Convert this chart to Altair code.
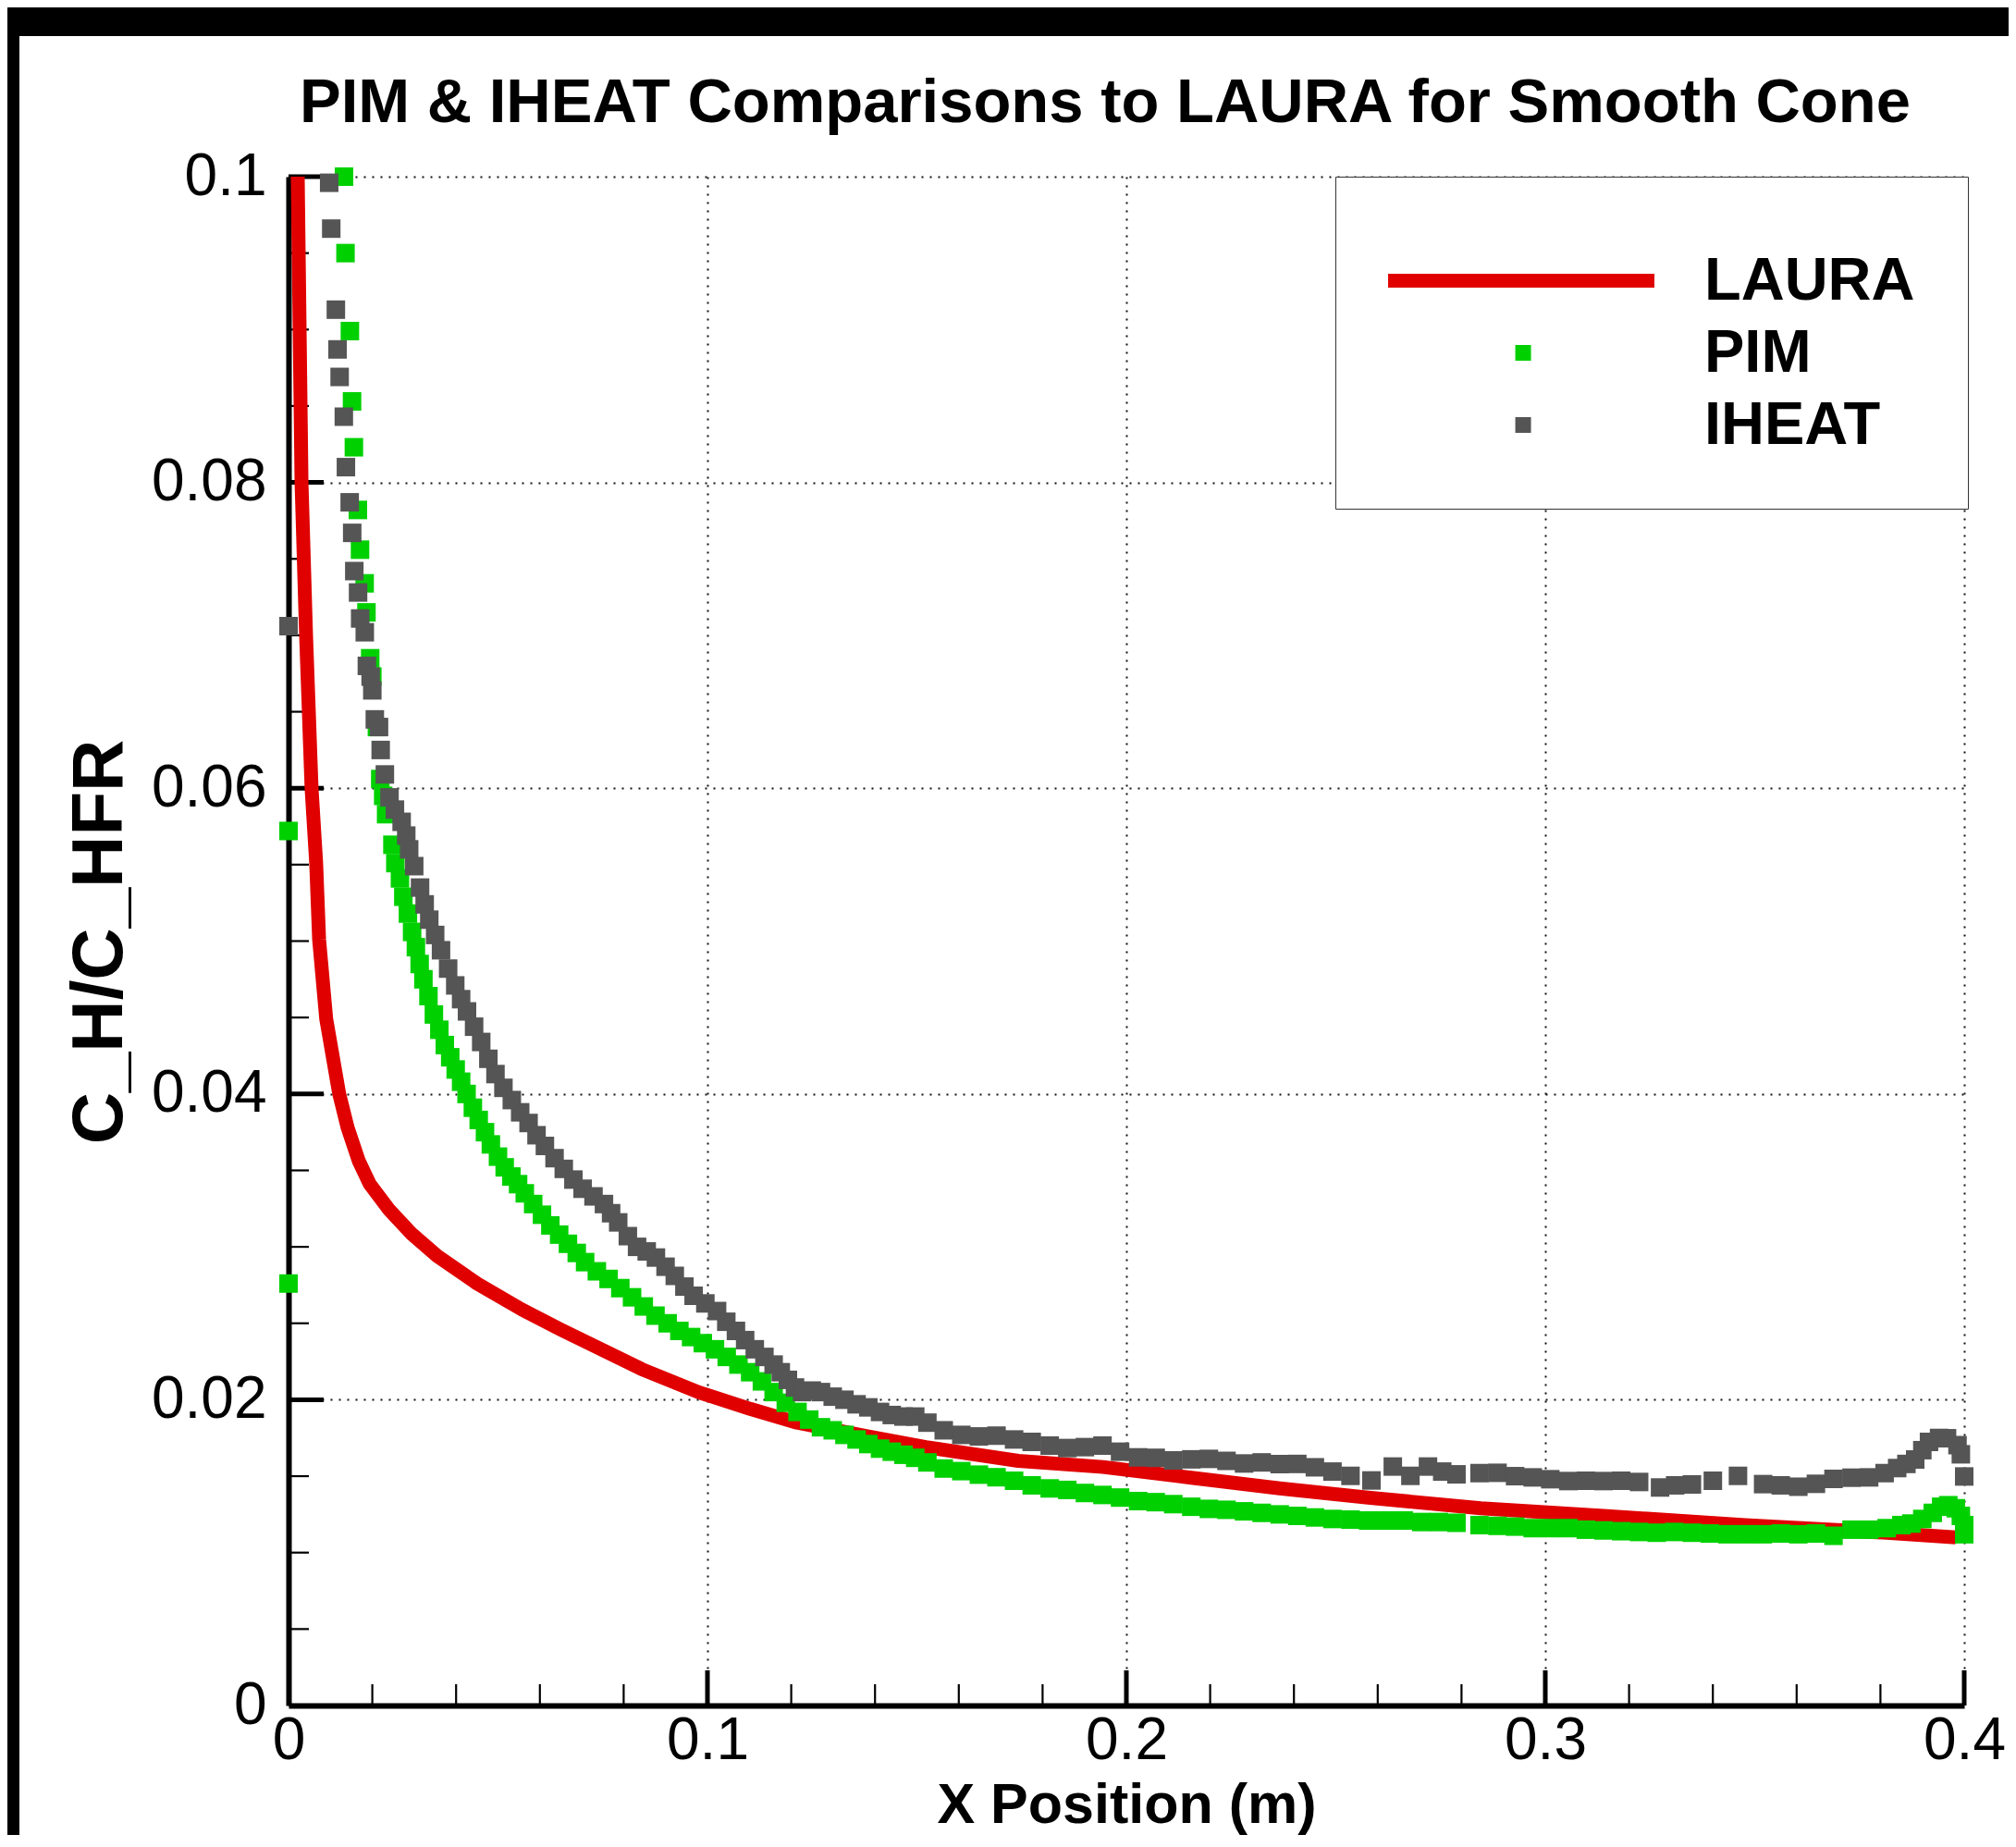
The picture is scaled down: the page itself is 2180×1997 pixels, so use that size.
import altair as alt
import pandas as pd

# ---------------- text ----------------
TITLE = "PIM & IHEAT Comparisons to LAURA for Smooth Cone"
X_TITLE = "X Position (m)"
Y_TITLE = "C_H/C_HFR"
SERIES = ["LAURA", "PIM", "IHEAT"]
COLORS = ["#E00000", "#00D000", "#555555"]

# ---------------- data ----------------
laura_x = [0.0022, 0.0031, 0.0042, 0.0055, 0.0066, 0.0073, 0.0090, 0.0121, 0.0141, 0.0168,
           0.0194, 0.0241, 0.0292, 0.0355, 0.0450, 0.0557, 0.0649, 0.0843, 0.0978, 0.1102,
           0.1214, 0.1384, 0.1521, 0.1742, 0.1944, 0.2155, 0.2366, 0.2577, 0.2846, 0.3139,
           0.3477, 0.3815, 0.3980]
laura_y = [0.1000, 0.0800, 0.0699, 0.0600, 0.0551, 0.0501, 0.0449, 0.0400, 0.0378, 0.0356,
           0.0341, 0.0324, 0.0309, 0.0294, 0.0276, 0.0259, 0.0246, 0.0220, 0.0205, 0.0194,
           0.0185, 0.0176, 0.0169, 0.0160, 0.0156, 0.0149, 0.0142, 0.0136, 0.0129, 0.0124,
           0.0118, 0.0113, 0.0110]

pim_x = [0.0000, 0.0000,
         0.01325, 0.0136, 0.01465, 0.01516, 0.0156, 0.01656, 0.01707, 0.01817, 0.0186, 0.0195,
         0.0200, 0.0211, 0.0219, 0.0226, 0.0233, 0.0248, 0.0255, 0.0266, 0.0274, 0.0285,
         0.0295, 0.0304, 0.0313, 0.0322, 0.0334, 0.0347, 0.0360, 0.0373, 0.0386, 0.0399,
         0.0412, 0.0425, 0.0440, 0.0454, 0.0469, 0.0483, 0.0500, 0.0516, 0.0532, 0.0548,
         0.0564, 0.0584, 0.0605, 0.0625, 0.0646, 0.0667, 0.0688, 0.0708, 0.0736, 0.0764,
         0.0792, 0.0820, 0.0848, 0.0876, 0.0905, 0.0933, 0.0961, 0.0989, 0.1018, 0.1046,
         0.1074, 0.1102, 0.1130, 0.1158, 0.1187, 0.1215, 0.1243, 0.1271, 0.1299, 0.1327,
         0.1356, 0.1384, 0.1412, 0.1440, 0.1468, 0.1496, 0.1525, 0.1564, 0.1606, 0.1648,
         0.1690, 0.1732, 0.1774, 0.1817, 0.1859, 0.1901, 0.1943, 0.1985, 0.2028, 0.2070,
         0.2112, 0.2155, 0.2197, 0.2239, 0.2281, 0.2323, 0.2366, 0.2408, 0.2450, 0.2492,
         0.2535, 0.2577, 0.2619, 0.2662, 0.2704, 0.2746, 0.2788, 0.2843, 0.2886, 0.2928,
         0.2970, 0.3012, 0.3055, 0.3097, 0.3139, 0.3181, 0.3224, 0.3266, 0.3308, 0.3350,
         0.3393, 0.3435, 0.3477, 0.3519, 0.3562, 0.3604, 0.3646, 0.3688, 0.3731, 0.3773,
         0.3815, 0.3850, 0.3874, 0.3900, 0.3925, 0.3945, 0.3962, 0.3980, 0.3992, 0.4000,
         0.4000]
pim_y = [0.0572, 0.0276,
         0.1000, 0.0950, 0.0899, 0.0853, 0.0823, 0.0782, 0.0756, 0.0734, 0.0715, 0.0685,
         0.0673, 0.0640, 0.0606, 0.0595, 0.0583, 0.0563, 0.0551, 0.0541, 0.0529, 0.0518,
         0.0506, 0.0496, 0.0485, 0.0475, 0.0464, 0.0452, 0.0442, 0.0432, 0.0424, 0.0416,
         0.0408, 0.0400, 0.0391, 0.0383, 0.0375, 0.0367, 0.0359, 0.0352, 0.0346, 0.0341,
         0.0335, 0.0328, 0.0321, 0.0314, 0.0308, 0.0302, 0.0296, 0.0290, 0.0284, 0.0279,
         0.0273, 0.0267, 0.0261, 0.0255, 0.0250, 0.0245, 0.0241, 0.0237, 0.0233, 0.0228,
         0.0223, 0.0218, 0.0212, 0.0205, 0.0198, 0.0192, 0.0187, 0.0182, 0.0180, 0.0177,
         0.0174, 0.0171, 0.0168, 0.0166, 0.0164, 0.0162, 0.0159, 0.0155, 0.01533, 0.0151,
         0.01493, 0.0147, 0.0144, 0.0142, 0.0141, 0.0139, 0.01377, 0.0136, 0.01337, 0.0133,
         0.01317, 0.0130, 0.01286, 0.0128, 0.0127, 0.0126, 0.0125, 0.0124, 0.0123, 0.0122,
         0.01216, 0.0121, 0.0121, 0.0121, 0.0120, 0.0120, 0.01195, 0.0118, 0.01175, 0.0117,
         0.0116, 0.0116, 0.0116, 0.0115, 0.01145, 0.0114, 0.01135, 0.0113, 0.01135, 0.0113,
         0.01125, 0.0112, 0.0112, 0.0112, 0.01125, 0.0112, 0.01125, 0.0111, 0.0115, 0.0115,
         0.0116, 0.0118, 0.0119, 0.0122, 0.0126, 0.0130, 0.0131, 0.0129, 0.0124, 0.0118,
         0.0112]

iheat_x = [0.0000, 0.0097, 0.0102, 0.0113, 0.0117, 0.0122, 0.0132, 0.0137, 0.0146, 0.0152,
           0.0157, 0.0166, 0.0171, 0.0182, 0.0187, 0.0196, 0.0200, 0.0206, 0.0216, 0.0220,
           0.0230, 0.0241, 0.0254, 0.0270, 0.0281, 0.0288, 0.0300, 0.0314, 0.0325, 0.0336,
           0.0350, 0.0364, 0.0381, 0.0398, 0.0412, 0.0426, 0.0443, 0.0460, 0.0477, 0.0494,
           0.0513, 0.0533, 0.0553, 0.0573, 0.0592, 0.0612, 0.0635, 0.0657, 0.0680, 0.0702,
           0.0728, 0.0753, 0.0770, 0.0787, 0.0810, 0.0832, 0.0855, 0.0877, 0.0900, 0.0922,
           0.0945, 0.0967, 0.0995, 0.1023, 0.1045, 0.1068, 0.1090, 0.1113, 0.1136, 0.1158,
           0.1175, 0.1192, 0.1209, 0.1226, 0.1249, 0.1271, 0.1299, 0.1327, 0.1356, 0.1384,
           0.1412, 0.1440, 0.1468, 0.1496, 0.1525, 0.1564, 0.1606, 0.1648, 0.1690, 0.1732,
           0.1774, 0.1817, 0.1859, 0.1901, 0.1943, 0.1985, 0.2028, 0.2070, 0.2112, 0.2155,
           0.2197, 0.2239, 0.2281, 0.2323, 0.2366, 0.2408, 0.2450, 0.2492, 0.2535, 0.2585,
           0.2636, 0.2678, 0.2720, 0.2754, 0.2788, 0.2843, 0.2886, 0.2928, 0.2970, 0.3012,
           0.3055, 0.3097, 0.3139, 0.3181, 0.3224, 0.3274, 0.3310, 0.3350, 0.3400, 0.3460,
           0.3520, 0.3562, 0.3604, 0.3646, 0.3688, 0.3731, 0.3773, 0.3810, 0.3840, 0.3862,
           0.3883, 0.3900, 0.3916, 0.3940, 0.3959, 0.3984, 0.3992, 0.4000]
iheat_y = [0.0706, 0.0996, 0.0966, 0.0913, 0.0887, 0.0869, 0.0843, 0.0810, 0.0787, 0.0767,
           0.0742, 0.0728, 0.0711, 0.0702, 0.0680, 0.0673, 0.0664, 0.0645, 0.0640, 0.0625,
           0.0609, 0.0594, 0.0586, 0.0578, 0.0569, 0.0560, 0.0549, 0.0535, 0.0524, 0.0514,
           0.0504, 0.0494, 0.0482, 0.0471, 0.0462, 0.0454, 0.0444, 0.0434, 0.0423, 0.0413,
           0.0404, 0.0396, 0.0388, 0.0381, 0.0373, 0.0366, 0.0358, 0.0351, 0.0344, 0.0338,
           0.0333, 0.0328, 0.0322, 0.0316, 0.0307, 0.0300, 0.0297, 0.0293, 0.0287, 0.0281,
           0.0274, 0.0268, 0.0263, 0.0258, 0.0251, 0.0245, 0.0239, 0.0233, 0.0228, 0.0223,
           0.0218, 0.0213, 0.0208, 0.0205, 0.0206, 0.0205, 0.0202, 0.0200, 0.0197, 0.0195,
           0.0192, 0.0190, 0.0189, 0.0189, 0.0185, 0.0180, 0.0177, 0.0176, 0.01765, 0.0174,
           0.01724, 0.0170, 0.01684, 0.0169, 0.0170, 0.0166, 0.01623, 0.0162, 0.01603, 0.0161,
           0.01613, 0.0160, 0.01583, 0.0159, 0.01579, 0.0158, 0.01558, 0.0153, 0.01502, 0.01472,
           0.01563, 0.01502, 0.01563, 0.0153, 0.01512, 0.0152, 0.01522, 0.0150, 0.01492, 0.0148,
           0.01468, 0.0147, 0.01468, 0.0147, 0.01462, 0.01426, 0.0144, 0.01446, 0.0147, 0.01502,
           0.01448, 0.0144, 0.01431, 0.0145, 0.01482, 0.0149, 0.01492, 0.0152, 0.01553, 0.0158,
           0.01609, 0.0167, 0.01724, 0.0175, 0.01748, 0.01703, 0.01643, 0.01498]

# axis tick values
X_LABELS = [0, 0.1, 0.2, 0.3, 0.4]
Y_LABELS = [0, 0.02, 0.04, 0.06, 0.08, 0.1]
X_MAJOR = [0.1, 0.2, 0.3, 0.4]
X_MINOR = [0.02, 0.04, 0.06, 0.08, 0.12, 0.14, 0.16, 0.18, 0.22, 0.24, 0.26, 0.28,
           0.32, 0.34, 0.36, 0.38]
Y_MAJOR = [0.02, 0.04, 0.06, 0.08, 0.1]
Y_MINOR = [0.005, 0.01, 0.015, 0.025, 0.03, 0.035, 0.045, 0.05, 0.055, 0.065, 0.07,
           0.075, 0.085, 0.09, 0.095]

# ---------------- layout ----------------
W, H = 1812, 1653
FONT = "Liberation Sans"

x_scale = alt.Scale(domain=[0, 0.4], nice=False, zero=False)
y_scale = alt.Scale(domain=[0, 0.1], nice=False, zero=False)

common_axis = dict(
    format="~g", grid=True, gridColor="#111111", gridDash=[2, 7], gridWidth=2,
    domainColor="black", domainWidth=6, ticks=False, tickSize=0,
    labelFont=FONT, labelFontSize=64, labelColor="black", labelOverlap=False,
    titleFont=FONT, titleFontWeight="bold", titleColor="black",
    titleAlign="center", titleBaseline="alphabetic",
)
x_axis = alt.Axis(values=X_LABELS, title=X_TITLE, labelPadding=6, labelFlush=False,
                  titleFontSize=61, titleX=W / 2, titleY=126.4, **common_axis)
y_axis = alt.Axis(values=Y_LABELS, title=Y_TITLE, labelPadding=24, titleAngle=270,
                  titleFontSize=78, titleX=-181, titleY=827, **common_axis)


def X():
    return alt.X("x:Q", scale=x_scale, axis=x_axis)


def Y():
    return alt.Y("y:Q", scale=y_scale, axis=y_axis)


color_scale = alt.Scale(domain=SERIES, range=COLORS)
# legend symbols: long bar for the LAURA line, small squares for the point series
LINE_SYM = "M-3.82,-0.88L30.06,-0.88L30.06,0.88L-3.82,0.88Z"
SQ_SYM = "M12.36,-1L14.36,-1L14.36,1L12.36,1Z"
shape_scale = alt.Scale(domain=SERIES, range=[LINE_SYM, SQ_SYM, SQ_SYM])

legend = alt.Legend(
    title=" ", titleFontSize=15, titlePadding=8,
    orient="none", legendX=1132, legendY=0, direction="vertical",
    padding=57, fillColor="white", strokeColor="#333333",
    labelFont=FONT, labelFontSize=65, labelFontWeight="bold", labelColor="black",
    labelOffset=277, labelLimit=1000, symbolSize=289, symbolStrokeWidth=0,
    symbolOpacity=1, rowPadding=12,
)

# ---------------- decoration: dark frame of the original screenshot ----------------
one = pd.DataFrame({"k": [0]})
top_strip = alt.Chart(one).mark_rect(color="black").encode(
    x=alt.value(-304), x2=alt.value(1860), y=alt.value(-183), y2=alt.value(-152))
left_strip = alt.Chart(one).mark_rect(color="black").encode(
    x=alt.value(-304), x2=alt.value(-291), y=alt.value(-152), y2=alt.value(1800))

title_layer = alt.Chart(pd.DataFrame({"t": [TITLE]})).mark_text(
    font=FONT, fontSize=67, fontWeight="bold", color="black",
    align="center", baseline="alphabetic").encode(
    text="t:N", x=alt.value(883), y=alt.value(-59))

# ---------------- inward ticks ----------------
xmaj = alt.Chart(pd.DataFrame({"x": X_MAJOR})).mark_rule(color="black", strokeWidth=5).encode(
    x=X(), y=alt.value(H), y2=alt.value(H - 38))
xmin = alt.Chart(pd.DataFrame({"x": X_MINOR})).mark_rule(color="black", strokeWidth=2.2).encode(
    x=X(), y=alt.value(H), y2=alt.value(H - 23))
ymaj = alt.Chart(pd.DataFrame({"y": Y_MAJOR})).mark_rule(color="black", strokeWidth=5).encode(
    y=Y(), x=alt.value(0), x2=alt.value(38))
ymin = alt.Chart(pd.DataFrame({"y": Y_MINOR})).mark_rule(color="black", strokeWidth=2.2).encode(
    y=Y(), x=alt.value(0), x2=alt.value(22))

# ---------------- data layers ----------------
laura_df = pd.DataFrame({"x": laura_x, "y": laura_y})
line = alt.Chart(laura_df).mark_line(color=COLORS[0], strokeWidth=15, strokeJoin="round").encode(
    x=X(), y=Y())

SQ = 400
pim_df = pd.DataFrame({"x": pim_x, "y": pim_y})
iheat_df = pd.DataFrame({"x": iheat_x, "y": iheat_y})
pim_pts = alt.Chart(pim_df).mark_square(size=SQ, opacity=1, filled=True, color=COLORS[1]).encode(
    x=X(), y=Y())
iheat_pts = alt.Chart(iheat_df).mark_square(size=SQ, opacity=1, filled=True, color=COLORS[2]).encode(
    x=X(), y=Y())

# legend only (no visible marks)
legend_layer = alt.Chart(pd.DataFrame({"series": SERIES})).transform_filter("false").mark_point(
    filled=True, opacity=1, size=289).encode(
    color=alt.Color("series:N", scale=color_scale, legend=legend),
    shape=alt.Shape("series:N", scale=shape_scale, legend=legend))

chart = alt.layer(
    top_strip, left_strip, title_layer, xmaj, xmin, ymaj, ymin, line, pim_pts, iheat_pts,
    legend_layer
).properties(
    width=W, height=H,
    autosize=alt.AutoSizeParams(type="none"),
    padding={"left": 304, "top": 183, "right": 48, "bottom": 140},
    background="white",
).configure_view(stroke="transparent")

chart.save("out.html", embed_options={"renderer": "svg", "actions": False})
